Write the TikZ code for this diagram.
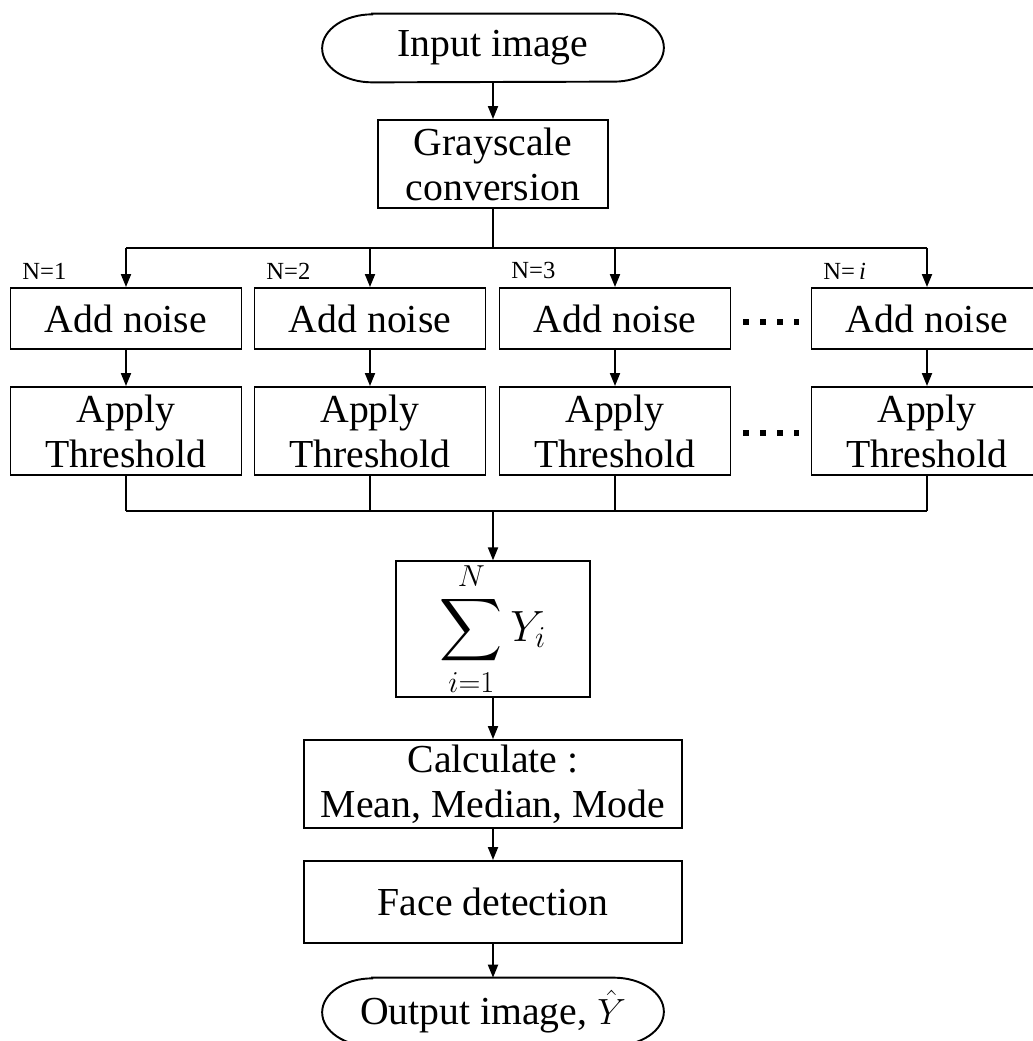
\documentclass[tikz,border=0pt]{standalone}
\usepackage{exscale}
\usepackage{fontspec}
\setmainfont{Liberation Serif}
\usetikzlibrary{arrows.meta,positioning,calc}
\tikzset{
  >={Triangle[length=2.6mm,width=2mm]},
  box/.style={draw,line width=1.1pt,minimum width=4.62cm,inner sep=0pt,align=center,
    font=\fontsize{22.6}{25.6}\selectfont},
  term/.style={minimum width=6.82cm,minimum height=1.36cm,inner sep=0pt,
    font=\fontsize{22.6}{25.6}\selectfont},
  outline/.style={line width=1.1pt},
  flow/.style={->,line width=1.1pt},
  link/.style={line width=1.1pt},
  tag/.style={font=\fontsize{14}{16}\selectfont,anchor=south west,inner sep=0pt},
  dotrow/.style={line width=1.2mm,dash pattern=on 1.2mm off 2.2mm},
}

\begin{document}
\begin{tikzpicture}[x=1cm,y=1cm]
  \useasboundingbox (0,0) rectangle (20.64,-20.82);

  % start / end terminals (elliptic ends)
  \node[term] (in) at (9.86,-0.96) {Input image};
  \draw[outline] ([xshift=1cm]in.north west) -- ([xshift=-1cm]in.north east)
    arc[start angle=90,end angle=-90,x radius=1cm,y radius=0.68cm]
    -- ([xshift=1cm]in.south west)
    arc[start angle=270,end angle=90,x radius=1cm,y radius=0.68cm] -- cycle;
  \node[box,minimum width=4.6cm,minimum height=1.76cm] (gray) at (9.86,-3.28) {Grayscale\\conversion};
  \draw[flow] (in) -- (gray);

  \coordinate (split) at (9.86,-4.96);
  \coordinate (merge) at (9.86,-10.22);
  \draw[link] (gray) -- (split);
  \foreach \x/\k/\lbl in {2.52/1/N=1,7.40/2/N=2,12.30/3/N=3,18.54/4/{N=\,\textit{i}}} {
    \node[box,minimum height=1.22cm] (noise\k) at (\x,-6.37) {Add noise};
    \node[box,minimum height=1.76cm] (thr\k) at (\x,-8.62) {Apply\\Threshold};
    \node[tag] (tag\k) at ($(noise\k.north west)+(0.25,0.15)$) {\lbl};
    \draw[flow] (split -| noise\k) -- (noise\k);
    \draw[flow] (noise\k) -- (thr\k);
    \draw[link] (thr\k) -- (merge -| thr\k);
  }
  \draw[link] (split -| noise1) -- (split -| noise4);
  \draw[link] (merge -| thr1) -- (merge -| thr4);
  \draw[dotrow] ($(noise3.east)+(0.24,-0.07)$) -- ($(noise4.west)+(-0.24,-0.07)$);
  \draw[dotrow] ($(thr3.east)+(0.24,-0.04)$) -- ($(thr4.west)+(-0.24,-0.04)$);

  \node[box,minimum width=3.88cm,minimum height=2.64cm,font=\fontsize{23}{26}\selectfont] (sum)
    at (9.86,-12.58) {$\displaystyle\sum_{i=1}^{N} Y_i$};
  \draw[flow] (merge) -- (sum);
  \node[box,minimum width=7.56cm,minimum height=1.76cm] (calc) at (9.86,-15.68)
    {Calculate :\\Mean, Median, Mode};
  \node[box,minimum width=7.56cm,minimum height=1.64cm] (face) at (9.86,-18.04) {Face detection};
  \node[term] (out) at (9.86,-20.24) {Output image, $\hat{Y}$};
  \draw[outline] ([xshift=1cm]out.north west) -- ([xshift=-1cm]out.north east)
    arc[start angle=90,end angle=-90,x radius=1cm,y radius=0.68cm]
    -- ([xshift=1cm]out.south west)
    arc[start angle=270,end angle=90,x radius=1cm,y radius=0.68cm] -- cycle;
  \draw[flow] (sum) -- (calc);
  \draw[flow] (calc) -- (face);
  \draw[flow] (face) -- (out);
\end{tikzpicture}
\end{document}
